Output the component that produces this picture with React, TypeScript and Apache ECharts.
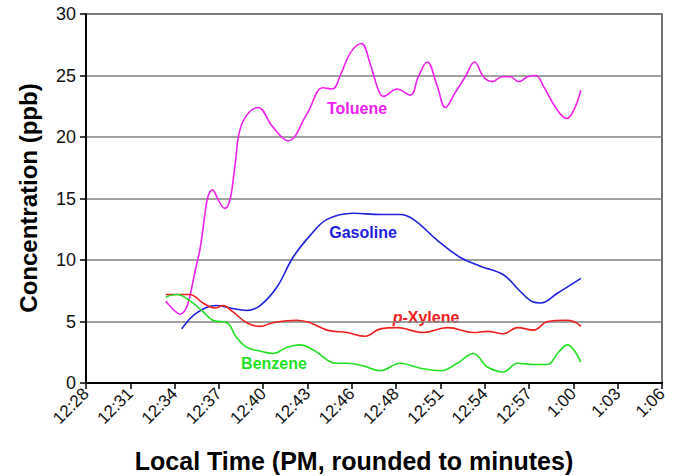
import React, { useEffect, useRef } from "react";
import * as echarts from "echarts";

// x positions are in tick-index units (0 = 12:28, 1 = 12:31, ...)
const tickLabels = ["12:28", "12:31", "12:34", "12:37", "12:40", "12:43", "12:46", "12:48", "12:51", "12:54", "12:57", "1:00", "1:03", "1:06"];

const tolueneX = [1.80, 2.12, 2.52, 2.86, 3.13, 3.25, 3.36, 3.52, 3.88, 4.22, 4.56, 4.99, 5.35, 5.56, 5.74, 5.96, 6.21, 6.41, 6.60, 6.71, 7.02, 7.32, 7.50, 7.70, 7.93, 8.11, 8.33, 8.56, 8.77, 8.97, 9.17, 9.40, 9.58, 9.76, 9.97, 10.15, 10.33, 10.60, 10.85, 11.01, 11.17];
const tolueneY = [6.65, 5.6, 10.0, 15.7, 14.2, 14.9, 17.6, 21.1, 22.4, 20.8, 19.7, 21.9, 24.0, 23.9, 25.0, 26.8, 27.6, 26.0, 23.8, 23.3, 23.9, 23.4, 24.9, 26.1, 24.1, 22.4, 23.6, 24.9, 26.1, 24.9, 24.5, 24.9, 24.9, 24.5, 24.9, 25.0, 24.1, 22.4, 21.5, 22.2, 23.8];

const gasolineX = [2.16, 2.50, 2.95, 3.25, 3.63, 3.93, 4.31, 4.67, 5.06, 5.44, 6.03, 6.64, 7.09, 7.39, 7.93, 8.45, 8.90, 9.42, 9.76, 10.08, 10.26, 10.64, 11.17];
const gasolineY = [4.4, 5.7, 6.3, 6.1, 5.9, 6.3, 7.8, 10.2, 12.0, 13.3, 13.8, 13.7, 13.7, 13.3, 11.6, 10.2, 9.5, 8.8, 7.6, 6.6, 6.5, 7.3, 8.5];

const xyleneX = [1.80, 2.34, 2.64, 2.91, 3.09, 3.31, 3.63, 3.93, 4.22, 4.76, 5.06, 5.44, 5.89, 6.30, 6.64, 7.02, 7.61, 8.16, 8.75, 9.06, 9.42, 9.74, 10.10, 10.42, 10.83, 11.01, 11.17];
const xyleneY = [7.2, 7.2, 6.5, 6.1, 6.3, 5.8, 4.9, 4.6, 4.9, 5.1, 4.9, 4.3, 4.1, 3.8, 4.4, 4.5, 4.1, 4.5, 4.1, 4.2, 4.0, 4.5, 4.3, 5.0, 5.1, 5.0, 4.6];

const benzeneX = [1.80, 2.05, 2.34, 2.64, 2.86, 3.18, 3.40, 3.63, 3.93, 4.22, 4.54, 4.83, 5.12, 5.67, 5.89, 6.25, 6.64, 7.09, 7.55, 8.00, 8.38, 8.74, 9.06, 9.42, 9.74, 10.10, 10.42, 10.64, 10.87, 11.01, 11.17];
const benzeneY = [7.0, 7.2, 6.7, 5.8, 5.1, 4.9, 3.7, 2.9, 2.6, 2.4, 2.9, 3.1, 2.7, 1.6, 1.6, 1.4, 1.0, 1.6, 1.2, 1.0, 1.6, 2.4, 1.3, 0.9, 1.6, 1.5, 1.5, 2.4, 3.1, 2.7, 1.7];

const yTicks = [0, 5, 10, 15, 20, 25, 30];

const pair = (xs: number[], ys: number[]) => xs.map((x, i) => [x, ys[i]]);

export default function App() {
  const ref = useRef<HTMLDivElement>(null);
  useEffect(() => {
    if (!ref.current) return;
    const chart = echarts.init(ref.current, null, { renderer: "svg" });
    const font = "'Liberation Sans', Arial, Helvetica, sans-serif";
    const mk = (name: string, xs: number[], ys: number[], color: string) => ({
      type: "line",
      name,
      data: pair(xs, ys),
      smooth: 0.4,
      showSymbol: false,
      lineStyle: { color, width: 1.6 },
      itemStyle: { color },
      z: 3,
    });
    chart.setOption({
      animation: false,
      backgroundColor: "#ffffff",
      textStyle: { fontFamily: font },
      grid: { left: 86, right: 14, top: 14, bottom: 93, show: true, borderColor: "#444", borderWidth: 1.5 },
      xAxis: {
        type: "value",
        min: 0,
        max: tickLabels.length - 1,
        interval: 1,
        axisLine: { show: true, lineStyle: { color: "#000", width: 2 } },
        axisTick: { show: true, inside: false, length: 6, lineStyle: { color: "#000", width: 1.5 } },
        splitLine: { show: false },
        axisLabel: {
          rotate: 45,
          margin: 8,
          color: "#111",
          fontSize: 17,
          fontFamily: font,
          formatter: (v: number) => tickLabels[Math.round(v)] ?? "",
        },
      },
      yAxis: {
        type: "value",
        min: yTicks[0],
        max: yTicks[yTicks.length - 1],
        interval: 5,
        axisLine: { show: true, lineStyle: { color: "#000", width: 2 } },
        axisTick: { show: true, inside: false, length: 6, lineStyle: { color: "#000", width: 1.5 } },
        splitLine: { show: true, lineStyle: { color: "#808080", width: 1.5 } },
        axisLabel: { color: "#111", fontSize: 18, margin: 10, fontFamily: font },
      },
      series: [
        mk("Toluene", tolueneX, tolueneY, "#f020f0"),
        mk("Gasoline", gasolineX, gasolineY, "#2020dd"),
        mk("p-Xylene", xyleneX, xyleneY, "#f02020"),
        mk("Benzene", benzeneX, benzeneY, "#22e022"),
      ],
      graphic: [
        { type: "text", x: 357, y: 108, style: { text: "Toluene", fill: "#f020f0", font: `bold 16px ${font}`, textAlign: "center", textVerticalAlign: "middle" } },
        { type: "text", x: 363, y: 232, style: { text: "Gasoline", fill: "#2020dd", font: `bold 16px ${font}`, textAlign: "center", textVerticalAlign: "middle" } },
        {
          type: "text", x: 426, y: 317,
          style: {
            text: "{i|p}-Xylene", fill: "#f02020", font: `bold 16px ${font}`, textAlign: "center", textVerticalAlign: "middle",
            rich: { i: { fontStyle: "italic", fontWeight: "bold", fontSize: 16, fontFamily: font, fill: "#f02020", color: "#f02020" } },
          },
        },
        { type: "text", x: 274, y: 363, style: { text: "Benzene", fill: "#22e022", font: `bold 16px ${font}`, textAlign: "center", textVerticalAlign: "middle" } },
        { type: "text", x: 28, y: 198, rotation: Math.PI / 2, style: { text: "Concentration (ppb)", fill: "#000", font: `bold 24px ${font}`, textAlign: "center", textVerticalAlign: "middle" } },
        { type: "text", x: 354, y: 461, style: { text: "Local Time (PM, rounded to minutes)", fill: "#000", font: `bold 25px ${font}`, textAlign: "center", textVerticalAlign: "middle" } },
      ],
    });
    return () => chart.dispose();
  }, []);
  return <div ref={ref} style={{ width: 676, height: 476, position: "absolute", left: 0, top: 0 }} />;
}
